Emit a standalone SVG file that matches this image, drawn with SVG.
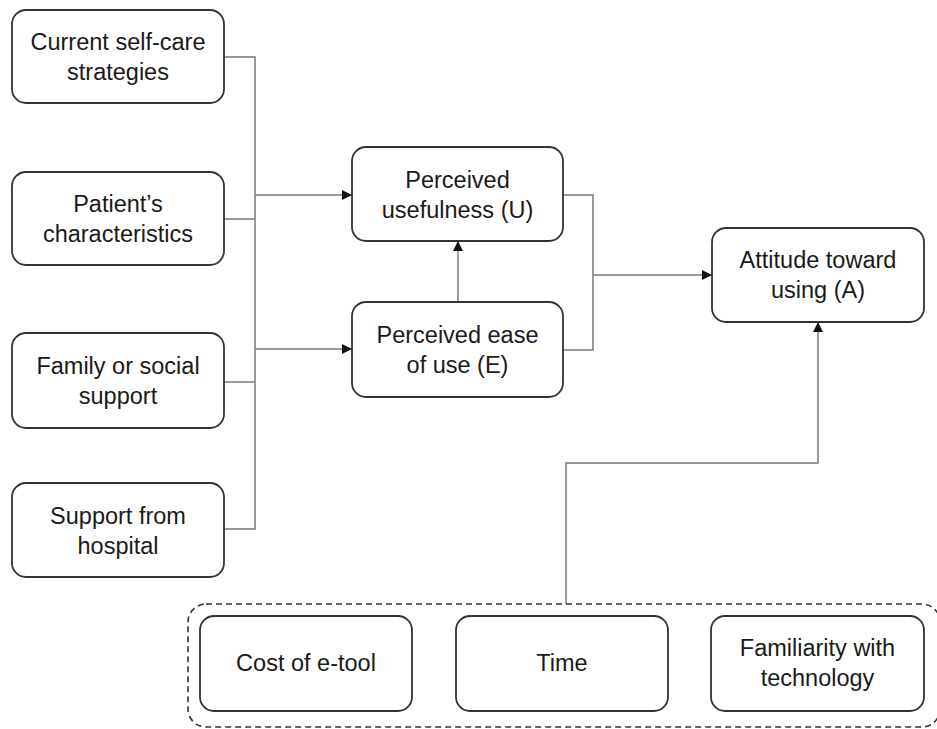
<svg xmlns="http://www.w3.org/2000/svg" width="937" height="729" viewBox="0 0 937 729">
<style>
.box{fill:#fff;stroke:#333;stroke-width:1.8}
.lbl{font-family:"Liberation Sans",Arial,sans-serif;font-size:23.5px;fill:#1a1a1a;text-anchor:middle}
.con{fill:none;stroke:#7a7a7a;stroke-width:1.5}
.dash{fill:none;stroke:#333;stroke-width:1.6;stroke-dasharray:6 4}
</style>
<defs>
<marker id="ah" viewBox="0 0 10 10" refX="10" refY="5" markerWidth="10" markerHeight="10" markerUnits="userSpaceOnUse" orient="auto">
<path d="M0,0 L10,5 L0,10 z" fill="#111"/>
</marker>
</defs>
<rect width="937" height="729" fill="#fff"/>
<g id="connectors">
<path class="con" d="M224,57 H255 V529 H224"/>
<path class="con" d="M224,219 H255"/>
<path class="con" d="M224,382 H255"/>
<path class="con" d="M255,195 H352" marker-end="url(#ah)"/>
<path class="con" d="M255,349 H352" marker-end="url(#ah)"/>
<path class="con" d="M458,302 V241" marker-end="url(#ah)"/>
<path class="con" d="M563,195 H593 V350 H563"/>
<path class="con" d="M593,275 H712" marker-end="url(#ah)"/>
<path class="con" d="M566,604 V463 H818 V322" marker-end="url(#ah)"/>
</g>
<g id="n1"><rect class="box" x="12" y="10" width="212" height="93" rx="14"/><text class="lbl" x="118" y="50">Current self-care</text><text class="lbl" x="118" y="80">strategies</text></g>
<g id="n2"><rect class="box" x="12" y="172" width="212" height="93" rx="14"/><text class="lbl" x="118" y="212">Patient’s</text><text class="lbl" x="118" y="242">characteristics</text></g>
<g id="n3"><rect class="box" x="12" y="333" width="212" height="95" rx="14"/><text class="lbl" x="118" y="374">Family or social</text><text class="lbl" x="118" y="404">support</text></g>
<g id="n4"><rect class="box" x="12" y="483" width="212" height="94" rx="14"/><text class="lbl" x="118" y="524">Support from</text><text class="lbl" x="118" y="554">hospital</text></g>
<g id="nU"><rect class="box" x="352" y="147" width="211" height="94" rx="14"/><text class="lbl" x="457.5" y="188">Perceived</text><text class="lbl" x="457.5" y="218">usefulness (U)</text></g>
<g id="nE"><rect class="box" x="352" y="302" width="211" height="95" rx="14"/><text class="lbl" x="457.5" y="343">Perceived ease</text><text class="lbl" x="457.5" y="373">of use (E)</text></g>
<g id="nA"><rect class="box" x="712" y="228" width="212" height="94" rx="14"/><text class="lbl" x="818" y="268">Attitude toward</text><text class="lbl" x="818" y="298">using (A)</text></g>
<g id="group"><rect class="dash" x="188" y="604" width="752" height="123" rx="18"/></g>
<g id="nC"><rect class="box" x="200" y="616" width="212" height="95" rx="14"/><text class="lbl" x="306" y="671">Cost of e-tool</text></g>
<g id="nT"><rect class="box" x="456" y="616" width="212" height="95" rx="14"/><text class="lbl" x="562" y="671">Time</text></g>
<g id="nF"><rect class="box" x="711" y="616" width="213" height="95" rx="14"/><text class="lbl" x="817.5" y="656">Familiarity with</text><text class="lbl" x="817.5" y="686">technology</text></g>
</svg>
